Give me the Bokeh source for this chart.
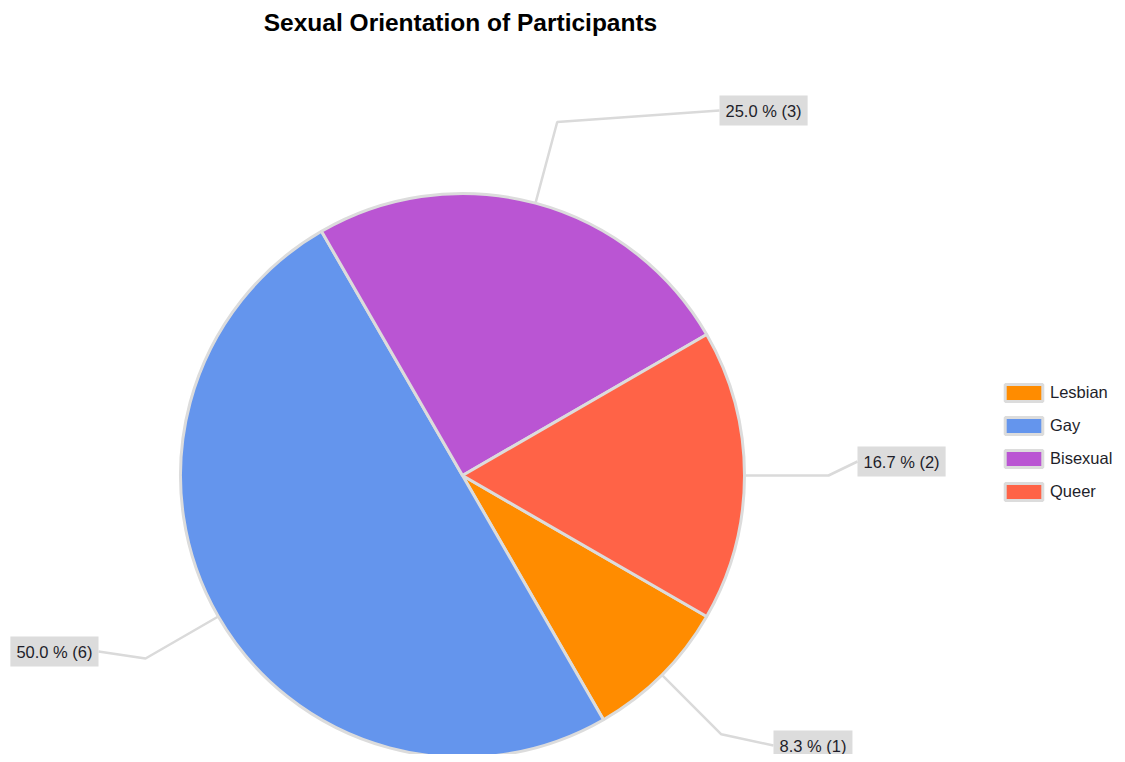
import math
from bokeh.plotting import figure
from bokeh.models import Range1d, ColumnDataSource, Legend, LegendItem
from bokeh.core.properties import value
from bokeh.embed import file_html
from bokeh.resources import INLINE

# ---- data ----
title_text = "Sexual Orientation of Participants"
categories = ["Lesbian", "Gay", "Bisexual", "Queer"]
counts = [1, 6, 3, 2]
colors = ["#FF8C00", "#6495ED", "#BA55D3", "#FF6347"]

# ---- layout (canvas px, y up) ----
W, H = 1117, 754
CX, CY = 462, 279
R = 282
R_ELBOW = 366
START_DEG = -30.0
# label box edge anchor positions (layout only)
label_pos = {
    "Lesbian": (773, 9, "left"),
    "Gay": (98, 103, "right"),
    "Bisexual": (719, 644, "left"),
    "Queer": (857, 293, "left"),
}
FONT = "Liberation Sans"

total = sum(counts)
starts, ends, mids = [], [], []
cum = 0.0
for c in counts:
    a0 = math.radians(START_DEG - cum / total * 360.0)
    a1 = math.radians(START_DEG - (cum + c) / total * 360.0)
    starts.append(a0)
    ends.append(a1)
    mids.append((a0 + a1) / 2)
    cum += c

labels = ["{:.1f} % ({})".format(c / total * 100, c) for c in counts]

src = ColumnDataSource(dict(cat=categories, count=counts, color=colors,
                            start=starts, end=ends))

p = figure(width=W, height=H, output_backend="svg", toolbar_location=None,
           x_range=Range1d(0, W), y_range=Range1d(0, H),
           x_axis_type=None, y_axis_type=None, min_border=0)
p.outline_line_color = None
p.grid.visible = False
p.background_fill_color = "white"

# leader lines
xs, ys = [], []
for cat, m in zip(categories, mids):
    lx, ly, _ = label_pos[cat]
    xs.append([CX + R * math.cos(m), CX + R_ELBOW * math.cos(m), lx])
    ys.append([CY + R * math.sin(m), CY + R_ELBOW * math.sin(m), ly])
p.multi_line(xs, ys, line_color="#DADADA", line_width=2.5)

wr = p.wedge(x=CX, y=CY, radius=R, radius_units="screen",
             start_angle="start", end_angle="end", direction="clock",
             fill_color="color", line_color="#DCDCDC", line_width=3, source=src)

# labels
for align in ("left", "right"):
    sel = [i for i, cat in enumerate(categories) if label_pos[cat][2] == align]
    lsrc = ColumnDataSource(dict(
        x=[label_pos[categories[i]][0] for i in sel],
        y=[label_pos[categories[i]][1] for i in sel],
        t=[labels[i] for i in sel]))
    p.text(x="x", y="y", text="t", source=lsrc, text_align=align,
           text_baseline="middle", text_font=value(FONT),
           text_font_size="16.5px", text_color="#1E1E2A",
           background_fill_color="#DCDCDC", padding=6)

# title
p.text(x=[460], y=[732], text=[title_text], text_align="center",
       text_baseline="middle", text_font=value(FONT), text_font_size="24.5px",
       text_font_style="bold", text_color="#000000")

legend = Legend(items=[LegendItem(label=cat, renderers=[wr], index=i)
                       for i, cat in enumerate(categories)],
                location=(1000, 252), padding=0, margin=0,
                border_line_color=None, background_fill_alpha=0,
                glyph_width=47, glyph_height=21, label_height=21,
                spacing=12, label_standoff=3,
                label_text_font=FONT, label_text_font_size="16.5px",
                label_text_color="#1E1E2A")
p.add_layout(legend, "center")

open("out.html", "w").write(file_html(p, INLINE))
